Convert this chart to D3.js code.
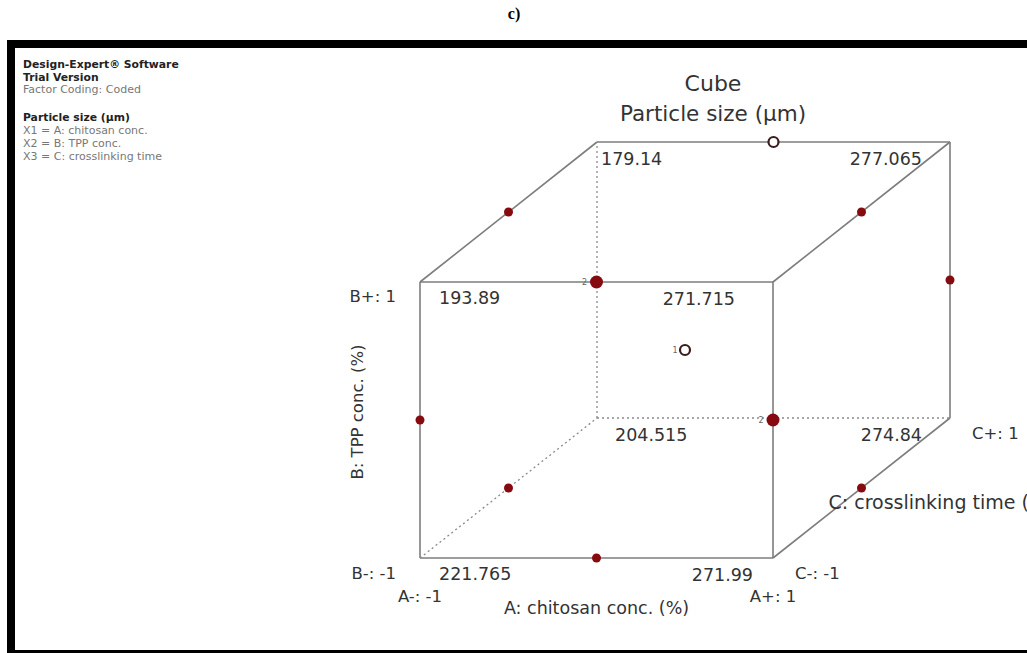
<!DOCTYPE html>
<html>
<head>
<meta charset="utf-8">
<script src="https://cdn.jsdelivr.net/npm/d3@7"></script>
<style>
  html, body { margin: 0; padding: 0; background: #fff; }
  svg { display: block; }
</style>
</head>
<body>
<svg id="chart" width="1027" height="653"></svg>
<script>
// ---- data ----
const panelLabel = "c)";
const chartTitle = ["Cube", "Particle size (µm)"];
const infoBold = ["Design-Expert® Software", "Trial Version"];
const infoCoding = "Factor Coding: Coded";
const responseName = "Particle size (µm)";
const factorCodes = ["X1 = A: chitosan conc.", "X2 = B: TPP conc.", "X3 = C: crosslinking time"];
const factorTitles = ["A: chitosan conc. (%)", "B: TPP conc. (%)", "C: crosslinking time (min)"];
const levelsA = ["A-: -1", "A+: 1"];
const levelsB = ["B-: -1", "B+: 1"];
const levelsC = ["C-: -1", "C+: 1"];

// cube corners (coded levels) and predicted particle size
const cornerA = [-1, 1, -1, 1, -1, 1, -1, 1];
const cornerB = [-1, -1, 1, 1, -1, -1, 1, 1];
const cornerC = [-1, -1, -1, -1, 1, 1, 1, 1];
const particleSize = [221.765, 271.99, 193.89, 271.715, 204.515, 274.84, 179.14, 277.065];

// design runs (coded levels): 12 edge midpoints + centre
const runA = [0, 1, -1, 0, -1, 1, -1, 1, 1, 0, -1, 0, 0];
const runB = [1, 0, 0, -1, 1, 1, -1, -1, 0, 1, 0, -1, 0];
const runC = [-1, -1, -1, -1, 0, 0, 0, 0, 1, 1, 1, 1, 0];
const runOpen = [false, false, false, false, false, false, false, false, false, true, false, false, true];

// ---- drawing ----
const svg = d3.select("#chart");
const cubeFont = "'DejaVu Sans', sans-serif";

// projection of the coded cube
const xA = d3.scaleLinear().domain([-1, 1]).range([420, 773]);
const yB = d3.scaleLinear().domain([-1, 1]).range([558, 282]);
const depthX = d3.scaleLinear().domain([-1, 1]).range([0, 177]);
const depthY = d3.scaleLinear().domain([-1, 1]).range([0, -140]);
const px = (a, b, c) => xA(a) + depthX(c);
const py = (a, b, c) => yB(b) + depthY(c);

// frame
svg.append("rect").attr("x", 7).attr("y", 40).attr("width", 1020).attr("height", 8).attr("fill", "#000");
svg.append("rect").attr("x", 7).attr("y", 40).attr("width", 8).attr("height", 613).attr("fill", "#000");
svg.append("rect").attr("x", 7).attr("y", 650).attr("width", 1020).attr("height", 3).attr("fill", "#000");

svg.append("text").attr("x", 514).attr("y", 19).attr("text-anchor", "middle")
  .attr("font-family", "'Liberation Serif', serif").attr("font-weight", "bold").attr("font-size", 16)
  .text(panelLabel);

// information block
const info = svg.append("g").attr("font-family", cubeFont).attr("font-size", 10.8);
infoBold.forEach((t, i) => info.append("text").attr("x", 23).attr("y", 68 + i * 12.5)
  .attr("font-weight", "bold").attr("fill", "#222").text(t));
info.append("text").attr("x", 23).attr("y", 93).attr("font-size", 11).attr("fill", "#777").text(infoCoding);
info.append("text").attr("x", 23).attr("y", 121).attr("font-weight", "bold").attr("fill", "#222").text(responseName);
factorCodes.forEach((t, i) => info.append("text").attr("x", 23).attr("y", 134 + i * 13)
  .attr("font-size", 11).attr("fill", "#777").text(t));

// titles
svg.append("text").attr("x", 713).attr("y", 91).attr("text-anchor", "middle")
  .attr("font-family", cubeFont).attr("font-size", 22).attr("fill", "#333").text(chartTitle[0]);
svg.append("text").attr("x", 713).attr("y", 121).attr("text-anchor", "middle")
  .attr("font-family", cubeFont).attr("font-size", 21.5).attr("fill", "#333").text(chartTitle[1]);

// cube edges: pairs of corners differing in exactly one factor
const corners = cornerA.map((a, i) => ({ a, b: cornerB[i], c: cornerC[i], v: particleSize[i] }));
const edges = [];
corners.forEach((p, i) => corners.forEach((q, j) => {
  if (j <= i) return;
  const diff = (p.a !== q.a) + (p.b !== q.b) + (p.c !== q.c);
  if (diff === 1) {
    // edges meeting the hidden back-bottom-left corner are dotted
    const hidden = [p, q].some(r => r.a === -1 && r.b === -1 && r.c === 1);
    edges.push({ p, q, hidden });
  }
}));
svg.append("g").selectAll("line").data(edges).join("line")
  .attr("x1", d => px(d.p.a, d.p.b, d.p.c)).attr("y1", d => py(d.p.a, d.p.b, d.p.c))
  .attr("x2", d => px(d.q.a, d.q.b, d.q.c)).attr("y2", d => py(d.q.a, d.q.b, d.q.c))
  .attr("stroke", d => d.hidden ? "#8a8a8a" : "#7d7d7d")
  .attr("stroke-width", d => d.hidden ? 1.3 : 1.6)
  .attr("stroke-dasharray", d => d.hidden ? "2,3" : null);

// corner values
function cornerPlacement(d) {
  if (d.c === -1 && d.a === -1) return { anchor: "start", dx: 19, dy: 22 };
  if (d.c === -1 && d.a === 1) return { anchor: "end", dx: d.b === 1 ? -38 : -20, dy: 23 };
  if (d.c === 1 && d.a === -1) return { anchor: "start", dx: d.b === 1 ? 4 : 18, dy: 23 };
  return { anchor: "end", dx: -28, dy: 23 };
}
svg.append("g").selectAll("text").data(corners).join("text")
  .attr("x", d => px(d.a, d.b, d.c) + cornerPlacement(d).dx)
  .attr("y", d => py(d.a, d.b, d.c) + cornerPlacement(d).dy)
  .attr("text-anchor", d => cornerPlacement(d).anchor)
  .attr("font-family", cubeFont).attr("font-size", 17.5).attr("fill", "#333")
  .text(d => d.v);

// level labels
const lvl = svg.append("g").attr("font-family", cubeFont).attr("font-size", 16.5).attr("fill", "#333");
lvl.append("text").attr("x", xA(-1) - 24).attr("y", yB(1) + 20).attr("text-anchor", "end").text(levelsB[1]);
lvl.append("text").attr("x", xA(-1) - 24).attr("y", yB(-1) + 21).attr("text-anchor", "end").text(levelsB[0]);
lvl.append("text").attr("x", xA(-1)).attr("y", yB(-1) + 44).attr("text-anchor", "middle").text(levelsA[0]);
lvl.append("text").attr("x", xA(1)).attr("y", yB(-1) + 44).attr("text-anchor", "middle").text(levelsA[1]);
lvl.append("text").attr("x", px(1, -1, -1) + 22).attr("y", py(1, -1, -1) + 21).text(levelsC[0]);
lvl.append("text").attr("x", px(1, -1, 1) + 22).attr("y", py(1, -1, 1) + 21).text(levelsC[1]);

// factor titles
const ft = svg.append("g").attr("font-family", cubeFont).attr("font-size", 17.5).attr("fill", "#333");
ft.append("text").attr("x", xA(0)).attr("y", yB(-1) + 56).attr("text-anchor", "middle").text(factorTitles[0]);
ft.append("text").attr("transform", `translate(363,${yB(0) - 8}) rotate(-90)`)
  .attr("text-anchor", "middle").attr("font-size", 16.5).text(factorTitles[1]);
ft.append("text").attr("x", px(1, -1, 0) - 33).attr("y", py(1, -1, 0) + 21)
  .attr("font-size", 19).text(factorTitles[2]);

// design points, merged where their projections (nearly) coincide
const runs = runA.map((a, i) => ({ a, b: runB[i], c: runC[i], open: runOpen[i],
                                   x: px(a, runB[i], runC[i]), y: py(a, runB[i], runC[i]) }));
const groups = [];
runs.forEach(r => {
  const g = groups.find(g => Math.hypot(g.x - r.x, g.y - r.y) < 6);
  if (g) { g.items.push(r); }
  else { groups.push({ x: r.x, y: r.y, items: [r] }); }
});
groups.forEach(g => {
  g.n = g.items.length;
  g.open = g.items.every(r => r.open);
  g.centre = g.items.some(r => r.a === 0 && r.b === 0 && r.c === 0);
});

const pts = svg.append("g");
pts.selectAll("circle").data(groups).join("circle")
  .attr("cx", d => d.x).attr("cy", d => d.y)
  .attr("r", d => d.open ? 5 : (d.n > 1 ? 6.5 : 4.5))
  .attr("fill", d => d.open ? "#fff" : "#860b10")
  .attr("stroke", d => d.open ? "#3a1c1c" : "none")
  .attr("stroke-width", d => d.open ? 2.2 : 0);
pts.selectAll("text").data(groups.filter(d => d.n > 1 || d.centre)).join("text")
  .attr("x", d => d.x - (d.open ? 10 : 12)).attr("y", d => d.y + 3)
  .attr("text-anchor", "middle").attr("font-family", cubeFont).attr("font-size", 8).attr("fill", "#666")
  .text(d => d.n);
</script>
</body>
</html>
